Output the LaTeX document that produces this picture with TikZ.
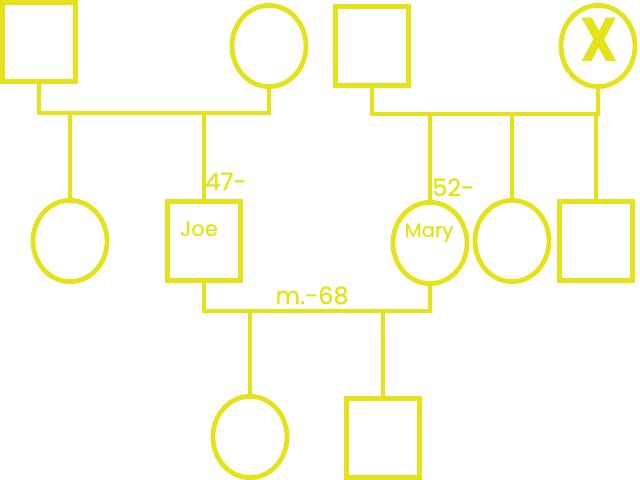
\documentclass[tikz,border=0pt]{standalone}
\usepackage{fontspec}
\setmainfont{Poppins}
\newfontfamily\pedfont{Poppins}[BoldFont={Poppins}, BoldFeatures={FakeBold=1.0}]
\usetikzlibrary{shapes.geometric}
\definecolor{pedyellow}{RGB}{230,226,26}

\begin{document}
\begin{tikzpicture}[
  x=0.025cm, y=-0.025cm,
  every node/.style={font=\pedfont\bfseries\fontsize{15}{17}\selectfont, text=pedyellow},
  line/.style={draw=pedyellow, line width=3.4pt},
  male/.style={line, rectangle, minimum width=1.83cm, minimum height=1.98cm, inner sep=0pt},
  female/.style={line, ellipse, minimum width=1.85cm, minimum height=2.03cm, inner sep=0pt},
  tag/.style={anchor=base, inner sep=0pt},
  year/.style={tag, anchor=base west, font=\pedfont\bfseries\fontsize{17}{19}\selectfont},
]
  \useasboundingbox (0,0) rectangle (640,480);
  % grandparents
  \node[male] (gpa1) at (39,42) {};
  \node[female] (gma1) at (269,46) {};
  \node[male] (gpa2) at (372,46) {};
  \node[female] (gma2) at (598,46) {};
  \node[tag, xscale=0.85, font=\fontsize{44}{44}\selectfont\bfseries] (dead) at (599,62) {X};
  % parents and their siblings
  \node[female] (aunt1) at (70,241) {};
  \node[male] (joe) at (204,241) {};
  \node[female] (mary) at (430,243) {};
  \node[female] (aunt2) at (512,241) {};
  \node[male] (uncle) at (596,241) {};
  \node[tag] (joename) at (199,236) {Joe};
  \node[tag, font=\pedfont\bfseries\fontsize{14}{16}\selectfont] (maryname) at (429,237) {Mary};
  \node[year] (joeyear) at (205,190) {47-};
  \node[year] (maryyear) at (432,196) {52-};
  \node[year, anchor=base] (wedding) at (312,304) {m.-68};
  % children
  \node[female] (daughter) at (250,437) {};
  \node[male] (son) at (383,438) {};
  % sibship bars
  \coordinate (bar1) at (0,113);
  \coordinate (bar2) at (0,114);
  \coordinate (bar3) at (0,311);
  \draw[line] (gpa1.south) |- (gma1.south |- bar1) -- (gma1.south);
  \draw[line] (aunt1.north) -- (aunt1.north |- bar1);
  \draw[line] (joe.north) -- (joe.north |- bar1);
  \draw[line] (gpa2.south) |- (gma2.south |- bar2) -- (gma2.south);
  \draw[line] (mary.north) -- (mary.north |- bar2);
  \draw[line] (aunt2.north) -- (aunt2.north |- bar2);
  \draw[line] (uncle.north) -- (uncle.north |- bar2);
  \draw[line] (joe.south) |- (mary.south |- bar3) -- (mary.south);
  \draw[line] (daughter.north) -- (daughter.north |- bar3);
  \draw[line] (son.north) -- (son.north |- bar3);
\end{tikzpicture}
\end{document}
